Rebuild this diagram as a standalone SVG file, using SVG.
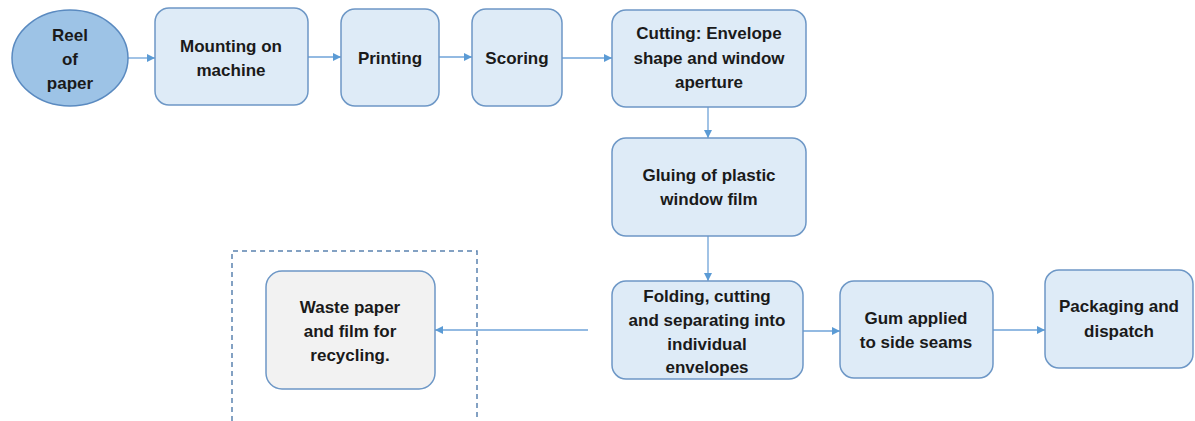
<svg xmlns="http://www.w3.org/2000/svg" width="1195" height="421" viewBox="0 0 1195 421">
<defs>
<style>
.box{fill:#deebf7;stroke:#6d97c6;stroke-width:1.5}
.waste{fill:#f2f2f2;stroke:#6d97c6;stroke-width:1.5}
.t{font-family:"Liberation Sans",Arial,sans-serif;font-weight:bold;font-size:17px;fill:#1a1a1a;text-anchor:middle}
.c{stroke:#6fa3d8;stroke-width:1.3;fill:none;marker-end:url(#ah)}
</style>
<marker id="ah" viewBox="0 0 10 10" refX="10" refY="5" markerWidth="8" markerHeight="8" markerUnits="userSpaceOnUse" orient="auto">
<path d="M0,0 L10,5 L0,10 z" fill="#5b9bd5"/>
</marker>
</defs>
<rect width="1195" height="421" fill="#ffffff"/>
<g id="connectors">
<line class="c" x1="128" y1="58" x2="155" y2="58"/>
<line class="c" x1="308" y1="57" x2="341" y2="57"/>
<line class="c" x1="439" y1="57" x2="472" y2="57"/>
<line class="c" x1="562" y1="58" x2="612" y2="58"/>
<line class="c" x1="708" y1="107" x2="708" y2="138"/>
<line class="c" x1="708" y1="236" x2="708" y2="281"/>
<line class="c" x1="588" y1="330" x2="435" y2="330"/>
<line class="c" x1="803" y1="331" x2="840" y2="331"/>
<line class="c" x1="993" y1="330" x2="1045" y2="330"/>
</g>
<g id="reel">
<ellipse cx="70" cy="58" rx="58" ry="48" fill="#9dc3e6" stroke="#5a8ac0" stroke-width="1.5"/>
<text class="t" x="70" y="41">Reel</text>
<text class="t" x="70" y="65">of</text>
<text class="t" x="70" y="89">paper</text>
</g>
<g id="mounting">
<rect class="box" x="155" y="8" width="153" height="97" rx="14"/>
<text class="t" x="231" y="52">Mounting on</text>
<text class="t" x="231" y="76">machine</text>
</g>
<g id="printing">
<rect class="box" x="341" y="9" width="98" height="97" rx="14"/>
<text class="t" x="390" y="64">Printing</text>
</g>
<g id="scoring">
<rect class="box" x="472" y="9" width="90" height="97" rx="14"/>
<text class="t" x="517" y="64">Scoring</text>
</g>
<g id="cutting">
<rect class="box" x="612" y="10" width="194" height="97" rx="14"/>
<text class="t" x="709" y="39">Cutting: Envelope</text>
<text class="t" x="709" y="64">shape and window</text>
<text class="t" x="709" y="88">aperture</text>
</g>
<g id="gluing">
<rect class="box" x="612" y="138" width="194" height="98" rx="14"/>
<text class="t" x="709" y="181">Gluing of plastic</text>
<text class="t" x="709" y="205">window film</text>
</g>
<g id="folding">
<rect class="box" x="612" y="281" width="191" height="98" rx="14"/>
<text class="t" x="707" y="302">Folding, cutting</text>
<text class="t" x="707" y="326">and separating into</text>
<text class="t" x="707" y="350">individual</text>
<text class="t" x="707" y="373">envelopes</text>
</g>
<g id="gum">
<rect class="box" x="840" y="281" width="153" height="97" rx="14"/>
<text class="t" x="916" y="324">Gum applied</text>
<text class="t" x="916" y="348">to side seams</text>
</g>
<g id="packaging">
<rect class="box" x="1045" y="270" width="148" height="98" rx="14"/>
<text class="t" x="1119" y="312">Packaging and</text>
<text class="t" x="1119" y="337">dispatch</text>
</g>
<g id="waste-group">
<path d="M232,421 L232,251 L477,251 L477,421" fill="none" stroke="#5b82b0" stroke-width="1.5" stroke-dasharray="5,4"/>
</g>
<g id="waste">
<rect class="waste" x="266" y="271" width="169" height="118" rx="16"/>
<text class="t" x="350" y="313">Waste paper</text>
<text class="t" x="350" y="337">and film for</text>
<text class="t" x="350" y="361">recycling.</text>
</g>
</svg>
